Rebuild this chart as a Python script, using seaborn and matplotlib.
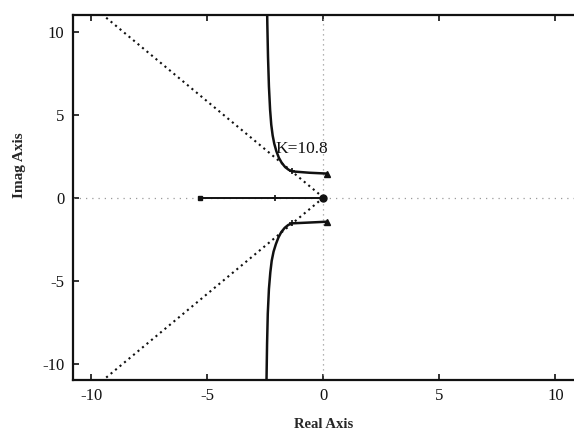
import matplotlib
matplotlib.use("Agg")
import matplotlib.pyplot as plt
import seaborn as sns
import pandas as pd

# Root-locus branches of the complex open-loop poles (upper and lower half-plane)
upper_re = [0.15, -0.6, -1.34, -1.50, -1.65, -1.80, -1.92, -2.03, -2.12, -2.19, -2.25, -2.30, -2.35, -2.39, -2.42, -2.43]
upper_im = [1.45, 1.50, 1.58, 1.68, 1.84, 2.10, 2.40, 2.80, 3.25, 3.75, 4.40, 5.30, 6.70, 8.50, 10.5, 11.5]
lower_re = [0.15, -0.6, -1.36, -1.52, -1.67, -1.82, -1.94, -2.05, -2.15, -2.23, -2.29, -2.35, -2.40, -2.43, -2.45, -2.46]
lower_im = [-1.45, -1.50, -1.55, -1.65, -1.82, -2.08, -2.40, -2.80, -3.25, -3.80, -4.50, -5.50, -7.00, -8.80, -10.6, -11.5]

# Real-axis segment between the open-loop poles
real_seg_re = [-5.3, 0.0]
real_seg_im = [0.0, 0.0]

# Constant damping-ratio lines through the origin
zeta_re = [0.0, -9.5]
zeta_up_im = [0.0, 11.0]
zeta_dn_im = [0.0, -11.0]

# Open-loop poles
pole_re = [0.15, 0.15]
pole_im = [1.45, -1.45]
real_pole_re = [-5.3]
origin_re = [0.0]

# Closed-loop poles for the selected gain
gain_label = "K=10.8"
cl_re = [-1.34, -1.36, -2.1]
cl_im = [1.58, -1.55, 0.0]

ticks = [-10, -5, 0, 5, 10]

sns.set_style("white")
plt.rcParams["font.family"] = ["Liberation Serif", "DejaVu Serif"]
plt.rcParams["axes.unicode_minus"] = False

fig = plt.figure(figsize=(5.74, 4.32), dpi=100)
ax = fig.add_axes([0.127, 0.12, 0.873, 0.845])

black = "#111111"

# reference axes (dotted grey)
ax.axhline(0, color="#9a9a9a", lw=0.9, ls=(0, (1, 4)), zorder=1)
ax.axvline(0, color="#9a9a9a", lw=0.9, ls=(0, (1, 3)), zorder=1)

def line(xs, ys, **kw):
    df = pd.DataFrame({"re": xs, "im": ys})
    sns.lineplot(data=df, x="re", y="im", sort=False, estimator=None, ax=ax, **kw)

line(zeta_re, zeta_up_im, color=black, lw=1.5, ls=(0, (1.0, 1.8)))
line(zeta_re, zeta_dn_im, color=black, lw=1.5, ls=(0, (1.0, 1.8)))
line(upper_re, upper_im, color=black, lw=1.8)
line(lower_re, lower_im, color=black, lw=1.8)
line(real_seg_re, real_seg_im, color=black, lw=1.4)

ax.plot(pole_re, pole_im, ls="none", marker="^", ms=4, color=black)
ax.plot(real_pole_re, [0.0], ls="none", marker="s", ms=3.5, color=black)
ax.plot(origin_re, [0.0], ls="none", marker="o", ms=5, color=black)
ax.plot(cl_re, cl_im, ls="none", marker="+", ms=5, mew=1.2, color=black)

ax.text(-2.05, 2.95, gain_label, fontsize=12.5, ha="left", va="center", color=black)

ax.set_xlim(-10.8, 10.8)
ax.set_ylim(-11, 11)
ax.set_xticks(ticks)
ax.set_yticks(ticks)
ax.set_xlabel("Real Axis", fontsize=10.5, fontweight="bold", labelpad=10)
ax.set_ylabel("Imag Axis", fontsize=11, fontweight="bold")
ax.yaxis.set_label_coords(-0.093, 0.59)
ax.tick_params(direction="in", length=4, width=1.2, colors=black,
               labelsize=12, top=True, bottom=True, left=True, right=False, pad=6)
for side in ("left", "bottom", "top"):
    ax.spines[side].set_linewidth(1.6)
    ax.spines[side].set_color(black)
ax.spines["right"].set_visible(False)

fig.savefig("out.png", dpi=100)
